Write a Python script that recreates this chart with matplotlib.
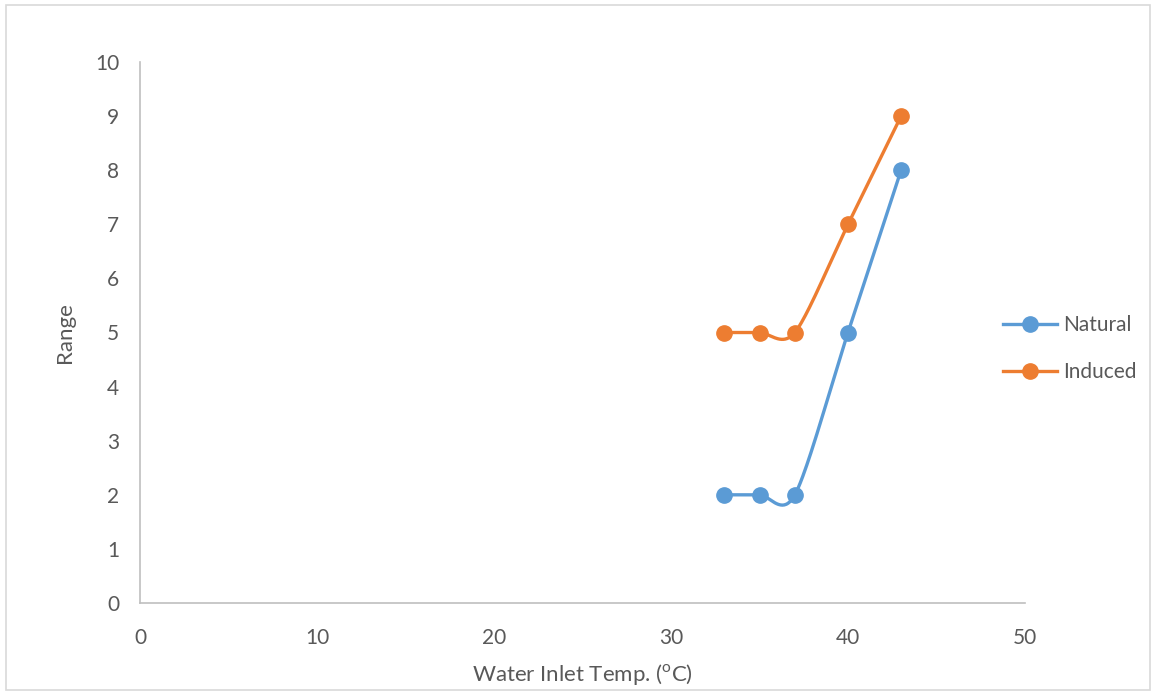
import matplotlib.pyplot as plt
import numpy as np
from matplotlib.patches import Rectangle

# data
temp = [33, 35, 37, 40, 43]
natural = [2, 2, 2, 5, 8]
induced = [5, 5, 5, 7, 9]

plt.rcParams['font.family'] = ['Lato', 'DejaVu Sans']


def smooth(xs, ys, n=40):
    # Excel-style smoothed line: cubic Bezier with Catmull-Rom control points
    p = np.column_stack([xs, ys]).astype(float)
    out = [p[0]]
    for i in range(len(p) - 1):
        p0 = p[i - 1] if i > 0 else p[i]
        p3 = p[i + 2] if i + 2 < len(p) else p[i + 1]
        c1 = p[i] + (p[i + 1] - p0) / 7
        c2 = p[i + 1] - (p3 - p[i]) / 7
        t = np.linspace(0, 1, n)[1:, None]
        seg = ((1 - t) ** 3) * p[i] + 3 * ((1 - t) ** 2) * t * c1 \
            + 3 * (1 - t) * t ** 2 * c2 + t ** 3 * p[i + 1]
        out.extend(seg)
    out = np.array(out)
    return out[:, 0], out[:, 1]


fig = plt.figure(figsize=(11.56, 6.92), dpi=100)
ax = fig.add_axes([140 / 1156, 89 / 692, 885 / 1156, 541 / 692])

series = [('Natural', natural, '#5B9BD5'), ('Induced', induced, '#ED7D31')]
for name, vals, col in series:
    sx, sy = smooth(temp, vals)
    ax.plot(sx, sy, color=col, lw=2.4, solid_capstyle='round', zorder=2)
    ax.plot(temp, vals, 'o', color=col, ms=11, zorder=3)
    ax.plot([], [], '-o', color=col, lw=2.4, ms=11, label=name)

ax.set_xlim(0, 50)
ax.set_ylim(0, 10)
ax.set_xticks(range(0, 51, 10))
ax.set_yticks(range(0, 11))
for s in ['top', 'right']:
    ax.spines[s].set_visible(False)
for s in ['left', 'bottom']:
    ax.spines[s].set_color('#bfbfbf')
    ax.spines[s].set_linewidth(1.2)
ax.tick_params(length=0, labelsize=15, labelcolor='#595959')
ax.tick_params(axis='x', pad=18)
ax.tick_params(axis='y', pad=15)
ax.set_xlabel(r'Water Inlet Temp. ($^{\mathregular{o}}$C)', fontsize=16,
              color='#595959', labelpad=10)
ax.set_ylabel('Range', fontsize=16, color='#595959', labelpad=14)

ax.legend(loc='center left', bbox_to_anchor=(1003 / 1156, (692 - 348.5) / 692),
          bbox_transform=fig.transFigure, borderaxespad=0, borderpad=0,
          frameon=False, fontsize=15, labelcolor='#595959', handlelength=2.6,
          labelspacing=1.3, handletextpad=0.3)

fig.patches.append(Rectangle((6 / 1156, 2 / 692), 1144 / 1156, 685 / 692,
                             transform=fig.transFigure, fill=False,
                             edgecolor='#d9d9d9', lw=1.2))

plt.savefig('out.png', dpi=100)
